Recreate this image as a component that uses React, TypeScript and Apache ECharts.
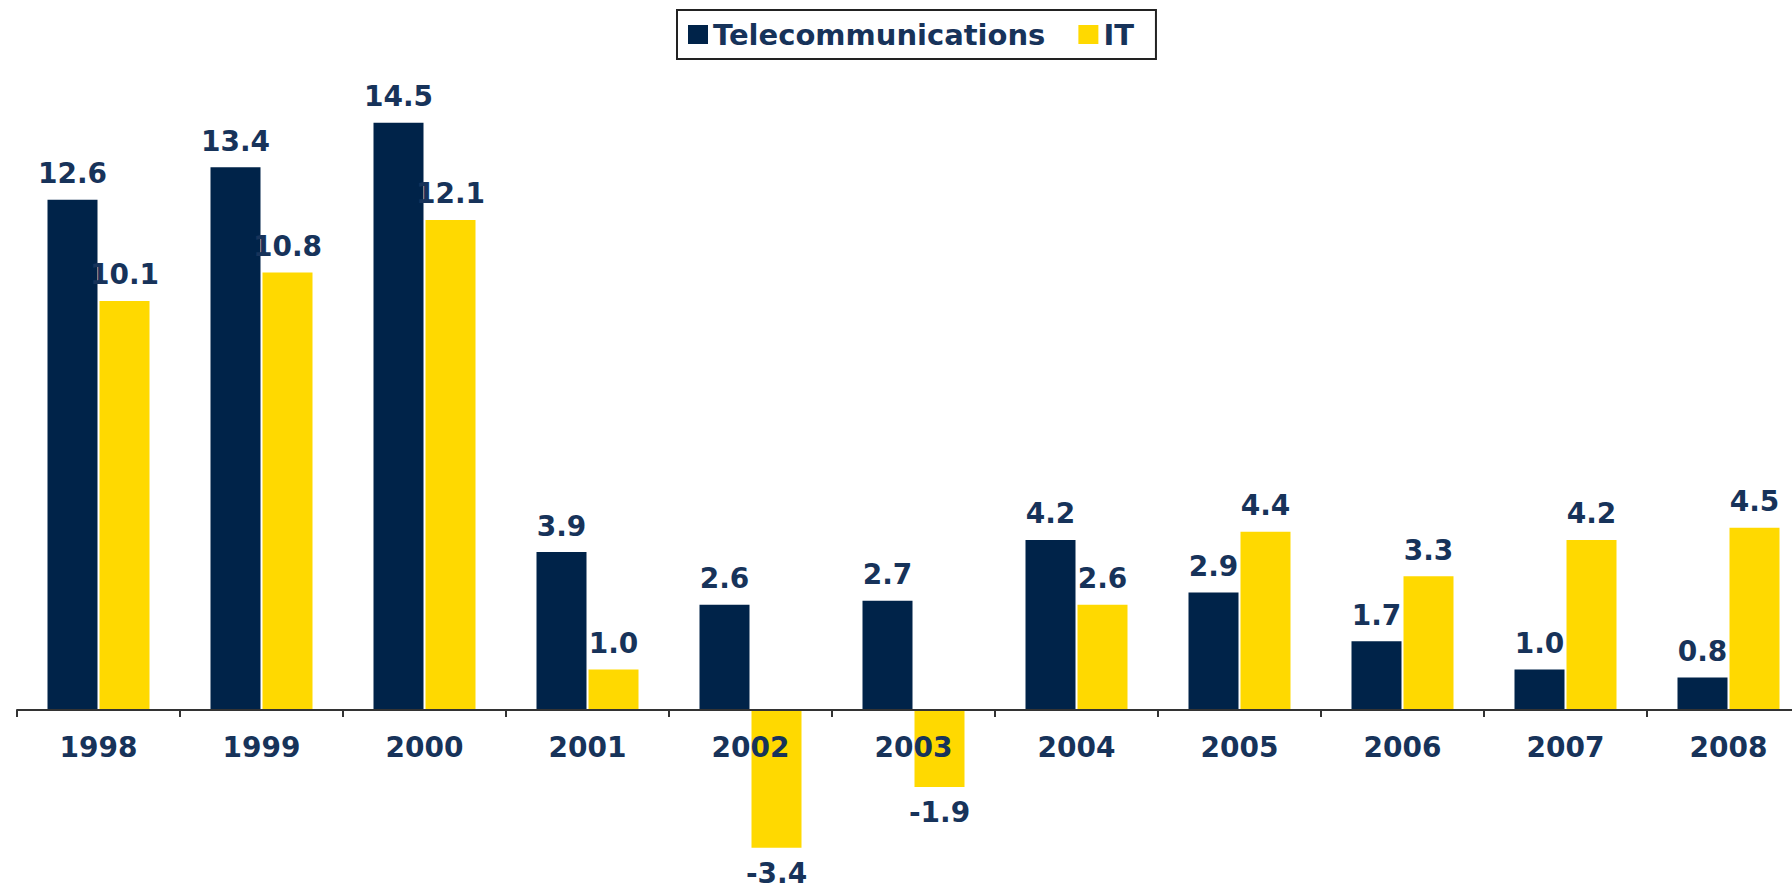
import React, { useEffect, useRef } from "react";
import * as echarts from "echarts";

const years = ["1998", "1999", "2000", "2001", "2002", "2003", "2004", "2005", "2006", "2007", "2008"];
const telecom = [12.6, 13.4, 14.5, 3.9, 2.6, 2.7, 4.2, 2.9, 1.7, 1.0, 0.8];
const it = [10.1, 10.8, 12.1, 1.0, -3.4, -1.9, 2.6, 4.4, 3.3, 4.2, 4.5];
const seriesNames = ["Telecommunications", "IT"];

const NAVY = "#002349";
const YELLOW = "#FFD900";
const TEXT = "#17335a";
const FONT = "DejaVu Sans";

const Y_MIN = -4;
const Y_MAX = 16;
const GRID_TOP = 62;
const GRID_BOTTOM = 18;
const CHART_H = 890;

function toData(values: number[]) {
  return values.map((v) => ({
    value: v,
    label: v < 0 ? { position: "bottom", distance: 12 } : { position: "top", distance: 12 },
  }));
}

export default function App() {
  const ref = useRef<HTMLDivElement>(null);
  useEffect(() => {
    if (!ref.current) return;
    const chart = echarts.init(ref.current, undefined, { renderer: "svg" });
    const gridH = CHART_H - GRID_TOP - GRID_BOTTOM;
    const zeroY = GRID_TOP + (Y_MAX / (Y_MAX - Y_MIN)) * gridH;
    const axisOffset = -(CHART_H - GRID_BOTTOM - zeroY);
    const labelStyle = {
      show: true,
      color: TEXT,
      fontFamily: FONT,
      fontWeight: "bold",
      fontSize: 28,
      formatter: (p: any) => Number(p.value).toFixed(1),
    };
    chart.setOption({
      animation: false,
      backgroundColor: "#ffffff",
      textStyle: { fontFamily: FONT },
      legend: {
        data: seriesNames,
        left: 677,
        top: 10,
        padding: [10, 22, 10, 11],
        borderColor: "#222",
        borderWidth: 2,
        itemWidth: 20,
        itemHeight: 19,
        itemGap: 33,
        icon: "rect",
        textStyle: { color: TEXT, fontFamily: FONT, fontWeight: "bold", fontSize: 29 },
      },
      grid: {
        left: 17,
        right: 0,
        top: GRID_TOP,
        bottom: GRID_BOTTOM,
        containLabel: false,
        outerBoundsMode: "none",
      },
      xAxis: {
        type: "category",
        data: years,
        position: "bottom",
        offset: axisOffset,
        axisLine: { onZero: false, lineStyle: { color: "#333", width: 2 } },
        axisTick: { show: true, length: 7, lineStyle: { color: "#333", width: 2 } },
        axisLabel: {
          color: TEXT,
          fontFamily: FONT,
          fontWeight: "bold",
          fontSize: 28,
          margin: 23,
        },
        z: 5,
      },
      yAxis: {
        type: "value",
        min: Y_MIN,
        max: Y_MAX,
        interval: 4,
        show: false,
        splitLine: { show: false },
      },
      series: [
        {
          name: seriesNames[0],
          type: "bar",
          data: toData(telecom),
          barWidth: 50,
          barGap: "4%",
          itemStyle: { color: NAVY },
          label: labelStyle,
        },
        {
          name: seriesNames[1],
          type: "bar",
          data: toData(it),
          barWidth: 50,
          barGap: "4%",
          itemStyle: { color: YELLOW },
          label: labelStyle,
        },
      ],
    });
    return () => chart.dispose();
  }, []);
  return (
    <div style={{ position: "fixed", left: 0, top: 0, width: 1792, height: 890, overflow: "hidden", background: "#fff" }}>
      <div ref={ref} style={{ position: "absolute", left: 0, top: 0, width: 1810, height: CHART_H }} />
    </div>
  );
}
